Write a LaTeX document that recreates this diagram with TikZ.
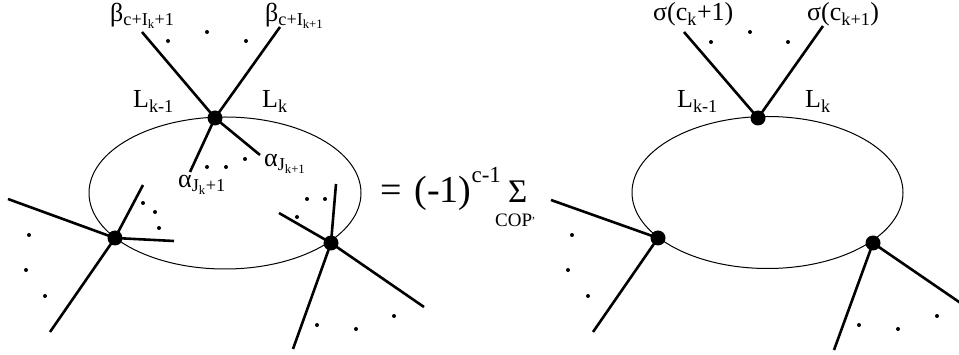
\documentclass[tikz,border=0pt]{standalone}
\usepackage{fontspec}
\setmainfont{Liberation Serif}
\usepackage{tikz}

\tikzset{
  leg/.style={line width=2.6pt},
  loopline/.style={line width=1pt},
  vtx/.style={circle, fill=black, inner sep=0pt, minimum size=15pt},
  lbl/.style={inner sep=0pt, anchor=base west, font=\fontsize{26}{30}\selectfont},
  eqn/.style={inner sep=0pt, anchor=base west, font=\fontsize{38}{44}\selectfont}
}

\begin{document}
\begin{tikzpicture}[x=1pt, y=-1pt]
  \useasboundingbox (0,0) rectangle (959,355);

  % Left ellipse
  \draw[loopline] (225,193) ellipse [x radius=136, y radius=76];

  % Left vertices
  \node[vtx] (lt) at (215,118) {};
  \node[vtx] (lb) at (115,238) {};
  \node[vtx] (lr) at (331,243) {};

  % Leg ends, left
  \coordinate (lt1) at (142,32);
  \coordinate (lt2) at (280,27);
  \coordinate (lt3) at (190,172);
  \coordinate (lt4) at (260,155);
  \coordinate (lb1) at (8,199);
  \coordinate (lb2) at (143,185);
  \coordinate (lb3) at (174,241);
  \coordinate (lb4) at (50,332);
  \coordinate (lr1) at (336,184);
  \coordinate (lr2) at (279,213);
  \coordinate (lr3) at (424,307);
  \coordinate (lr4) at (293,349);

  \foreach \v/\e in {lt/lt1, lt/lt2, lt/lt3, lt/lt4,
                     lb/lb1, lb/lb2, lb/lb3, lb/lb4,
                     lr/lr1, lr/lr2, lr/lr3, lr/lr4}
    \draw[leg] (\v.center) -- (\e);

  % Dots, left
  \foreach \p in {(168,41), (207,32), (246,41),
                  (207,167), (226,167), (245,159),
                  (29,235), (26,270), (45,296),
                  (143,203), (155,212), (159,228),
                  (307,199), (325,199), (297,217),
                  (317,325), (356,329), (394,316)}
    \fill \p circle (2pt);

  % Labels, left
  \node[lbl] (bl) at (110,22) {β\textsubscript{c+I\textsubscript{k}+1}};
  \node[lbl] (br) at (265,22) {β\textsubscript{c+I\textsubscript{k+1}}};
  \node[lbl] (ll) at (133,108) {L\textsubscript{k-1}};
  \node[lbl] (lk) at (262,108) {L\textsubscript{k}};
  \node[lbl] (ar) at (264,167) {α\textsubscript{J\textsubscript{k+1}}};
  \node[lbl] (al) at (178,188) {α\textsubscript{J\textsubscript{k}+1}};

  % Equation
  \node[eqn] (eq) at (380,203) {=\hspace{13pt}(-1)\raisebox{20pt}{\fontsize{23}{27}\selectfont c-1}};
  \node[eqn, font=\fontsize{33}{38}\selectfont] (sum) at (508,203) {Σ};
  \node[lbl, font=\fontsize{19}{22}\selectfont] (cop) at (495,227) {COP\raisebox{8pt}{\fontsize{12}{14}\selectfont ,}};

  % Right ellipse
  \draw[loopline] (767.5,192.5) ellipse [x radius=135.5, y radius=76];

  % Right vertices
  \node[vtx] (rt) at (758,118) {};
  \node[vtx] (rb) at (658,238) {};
  \node[vtx] (rr) at (873,243) {};

  % Leg ends, right
  \coordinate (rt1) at (684,32);
  \coordinate (rt2) at (823,26);
  \coordinate (rb1) at (551,200);
  \coordinate (rb2) at (593,332);
  \coordinate (rr1) at (962,304);
  \coordinate (rr2) at (834,350);

  \foreach \v/\e in {rt/rt1, rt/rt2, rb/rb1, rb/rb2, rr/rr1, rr/rr2}
    \draw[leg] (\v.center) -- (\e);

  % Dots, right
  \foreach \p in {(711,42), (750,32), (788,42),
                  (572,235), (568,270), (588,296),
                  (859,325), (898,329), (937,316)}
    \fill \p circle (2pt);

  % Labels, right
  \node[lbl] (sl) at (653,21) {σ(c\textsubscript{k}+1)};
  \node[lbl] (sr) at (807,21) {σ(c\textsubscript{k+1})};
  \node[lbl] (rl) at (677,108) {L\textsubscript{k-1}};
  \node[lbl] (rk) at (805,108) {L\textsubscript{k}};
\end{tikzpicture}
\end{document}
